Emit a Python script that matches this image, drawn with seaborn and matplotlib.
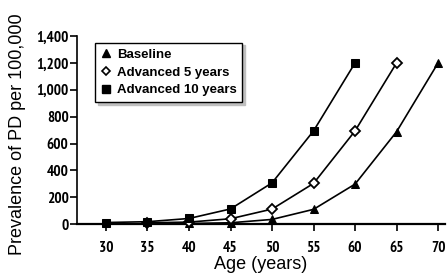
import matplotlib
matplotlib.use("Agg")
import matplotlib.pyplot as plt
from matplotlib.lines import Line2D
from matplotlib.ticker import FuncFormatter
import pandas as pd
import seaborn as sns

ages_base = [40, 45, 50, 55, 60, 65, 70]
ages_adv5 = [35, 40, 45, 50, 55, 60, 65]
ages_adv10 = [30, 35, 40, 45, 50, 55, 60]
baseline = [5, 10, 35, 110, 298, 688, 1200]
advanced5 = [10, 15, 40, 112, 303, 694, 1200]
advanced10 = [12, 18, 42, 113, 307, 694, 1200]
labels = ["Baseline", "Advanced 5 years", "Advanced 10 years"]
x_ticks = [30, 35, 40, 45, 50, 55, 60, 65, 70]
y_ticks = [0, 200, 400, 600, 800, 1000, 1200, 1400]

sns.set_style("ticks")
plt.rcParams['font.family'] = ['Liberation Sans', 'DejaVu Sans']
plt.rcParams['text.color'] = 'black'
plt.rcParams['axes.labelcolor'] = 'black'
narrow = ['PT Sans Narrow', 'Liberation Sans', 'DejaVu Sans']

fig = plt.figure(figsize=(4.47, 2.75), dpi=100)
ax = fig.add_axes([0.172, 0.185, 0.823, 0.684])

series = [
    (ages_base, baseline, dict(marker="^", markersize=6, markerfacecolor="black")),
    (ages_adv5, advanced5, dict(marker="D", markersize=4.8, markerfacecolor="white", markeredgewidth=1.3)),
    (ages_adv10, advanced10, dict(marker="s", markersize=5.3, markerfacecolor="black")),
]
for (xs, ys, mk), lab in zip(series, labels):
    df = pd.DataFrame({"age": xs, "prev": ys})
    sns.lineplot(data=df, x="age", y="prev", ax=ax, color="black", linewidth=1.2,
                 markeredgecolor="black", clip_on=False, zorder=3, **mk)

ax.set_xlim(26.5, 70.8)
ax.set_ylim(0, 1400)
ax.set_xticks(x_ticks)
ax.set_yticks(y_ticks)
ax.yaxis.set_major_formatter(FuncFormatter(lambda v, p: f"{int(v):,}"))
ax.tick_params(axis="both", direction="out", length=5, width=1.2, colors="black")
ax.tick_params(axis="x", pad=7)
ax.tick_params(axis="y", pad=1)
for lab in ax.get_xticklabels() + ax.get_yticklabels():
    lab.set_family(narrow)
    lab.set_fontweight("bold")
    lab.set_fontsize(11)
ax.spines["top"].set_visible(False)
ax.spines["right"].set_visible(False)
ax.spines["left"].set_linewidth(1.2)
ax.spines["bottom"].set_linewidth(1.6)
ax.spines["left"].set_color("black")
ax.spines["bottom"].set_color("black")

ax.set_xlabel("Age (years)", fontsize=13, labelpad=1)
ax.set_ylabel("Prevalence of PD per 100,000", fontsize=13)
ax.yaxis.set_label_coords(-0.139, 0.48)

handles = [
    Line2D([], [], linestyle="none", marker="^", color="black", markersize=6),
    Line2D([], [], linestyle="none", marker="D", markerfacecolor="white",
           markeredgecolor="black", markeredgewidth=1.2, markersize=4.5),
    Line2D([], [], linestyle="none", marker="s", color="black", markersize=5.5),
]
leg = ax.legend(handles, labels, loc="upper left", bbox_to_anchor=(0.049, 0.965),
                frameon=True, fancybox=False, shadow={"color": "0.75", "alpha": 1},
                handlelength=0.8, handletextpad=0.4, borderpad=0.45, labelspacing=0.42,
                borderaxespad=0, prop={"family": ['Liberation Sans', 'DejaVu Sans'],
                                       "weight": "bold", "size": 9.5})
leg.get_frame().set_edgecolor("black")
leg.get_frame().set_linewidth(1.0)

fig.savefig("out.png", dpi=100)
